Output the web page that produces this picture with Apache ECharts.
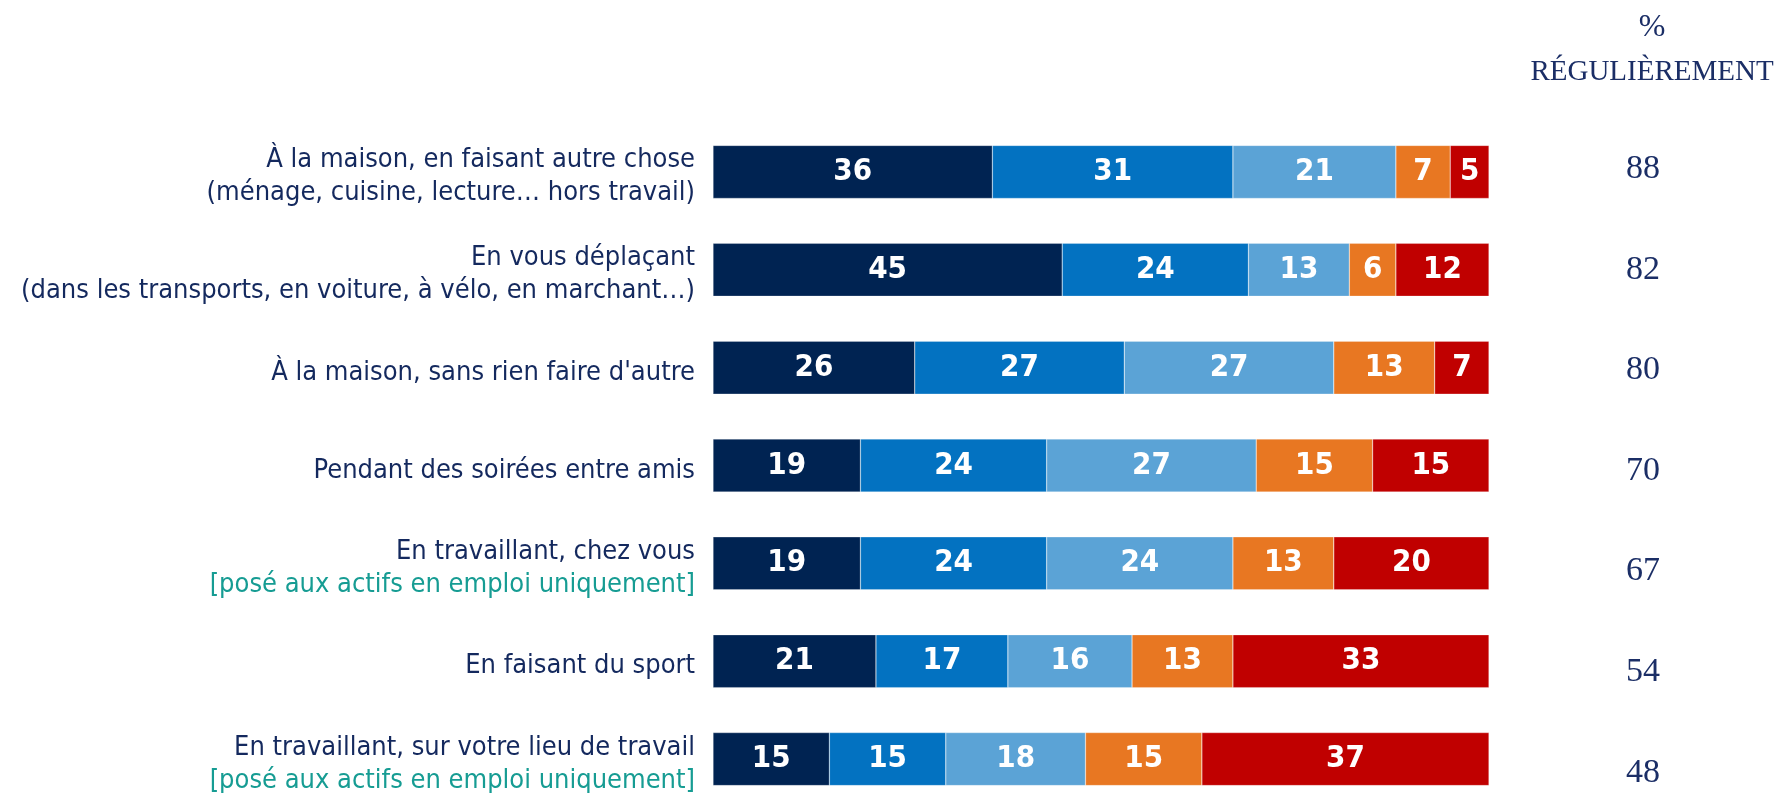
<meta charset="utf-8">
<script src="https://cdn.jsdelivr.net/npm/echarts/dist/echarts.min.js"></script>
<style>body{margin:0;overflow:hidden}</style>
<div id="main" style="position: absolute; left: 0; top: 0; width: 1777px; height: 830px;"></div>

<script type="text/javascript">
const categories = [
  'À la maison, en faisant autre chose\n(ménage, cuisine, lecture… hors travail)',
  'En vous déplaçant\n(dans les transports, en voiture, à vélo, en marchant…)',
  'À la maison, sans rien faire d\'autre',
  'Pendant des soirées entre amis',
  'En travaillant, chez vous\n{t|[posé aux actifs en emploi uniquement]}',
  'En faisant du sport',
  'En travaillant, sur votre lieu de travail\n{t|[posé aux actifs en emploi uniquement]}'
]
const tresSouvent = [36, 45, 26, 19, 19, 21, 15]
const assezSouvent = [31, 24, 27, 24, 24, 17, 15]
const deTempsEnTemps = [21, 13, 27, 27, 24, 16, 18]
const rarement = [7, 6, 13, 15, 13, 13, 15]
const jamais = [5, 12, 7, 15, 20, 33, 37]
const regulierement = [88, 82, 80, 70, 67, 54, 48]

const seriesDefs = [
  ['Très souvent', tresSouvent, '#002352'],
  ['Assez souvent', assezSouvent, '#0372C1'],
  ['De temps en temps', deTempsEnTemps, '#5BA3D6'],
  ['Rarement', rarement, '#E87722'],
  ['Jamais', jamais, '#C00000'],
]

const condensed = "'Liberation Sans Narrow', 'DejaVu Sans Condensed', Roboto, sans-serif"
const navy = '#1B2E66'

let myChart = echarts.init(main)
myChart.setOption({
  backgroundColor: '#fff',
  animation: false,
  title: {
    text: '{p|%}\n{r|RÉGULIÈREMENT}',
    left: 1647,
    top: 0,
    textAlign: 'center',
    textStyle: {
      rich: {
        p: {fontFamily: 'Liberation Serif', fontSize: 32, fontWeight: 'normal', color: navy, lineHeight: 45, align: 'center'},
        r: {fontFamily: 'Liberation Serif', fontSize: 29, fontWeight: 'normal', color: navy, lineHeight: 45, align: 'center'},
      }
    }
  },
  grid: [
    {left: 713, width: 776, top: 123, height: 685},
    {left: 713, width: 776, top: 119, height: 704},
  ],
  xAxis: [
    {type: 'value', min: 0, max: 100, show: false},
    {type: 'value', min: 0, max: 100, show: false, gridIndex: 1},
  ],
  yAxis: [{
    type: 'category',
    inverse: true,
    data: categories,
    axisLine: {show: false},
    axisTick: {show: false},
    axisLabel: {
      margin: 18,
      fontFamily: condensed,
      fontSize: 27,
      lineHeight: 33,
      color: '#14295E',
      align: 'right',
      padding: [10, 0, 0, 0],
      rich: {t: {fontFamily: condensed, fontSize: 27, lineHeight: 33, color: '#169C93'}}
    }
  }, {
    type: 'category',
    gridIndex: 1,
    inverse: true,
    position: 'right',
    data: regulierement,
    axisLine: {show: false},
    axisTick: {show: false},
    axisLabel: {
      margin: 154,
      align: 'center',
      fontFamily: 'Liberation Serif',
      fontSize: 34,
      color: navy
    }
  }],
  series: seriesDefs.map(([name, data, color]) => ({
    name: name,
    type: 'bar',
    stack: 'total',
    barWidth: 53,
    data: data,
    itemStyle: {color: color, borderColor: 'rgba(255,255,255,0.5)', borderWidth: 0.5},
    label: {
      show: true,
      position: 'inside',
      color: '#fff',
      fontFamily: condensed,
      fontWeight: 'bold',
      fontSize: 31,
    }
  }))
})
</script>
